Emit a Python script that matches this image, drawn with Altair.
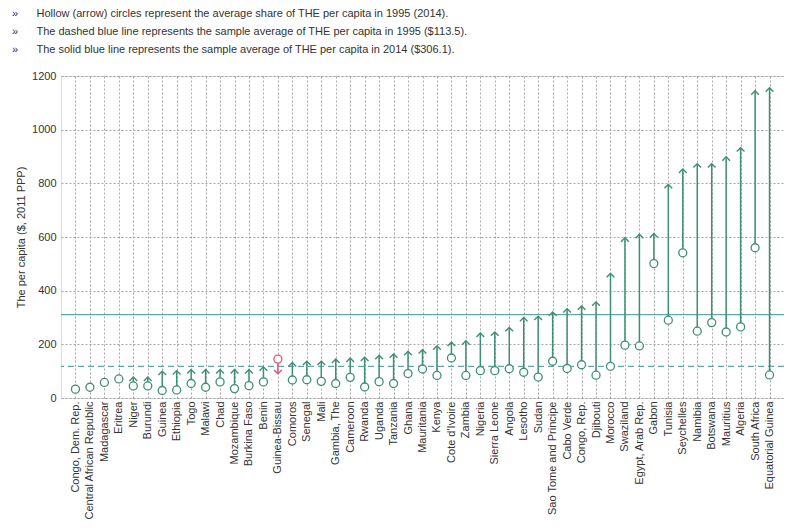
import altair as alt
import pandas as pd

countries = [
    "Congo, Dem. Rep.", "Central African Republic", "Madagascar", "Eritrea", "Niger",
    "Burundi", "Guinea", "Ethiopia", "Togo", "Malawi", "Chad", "Mozambique",
    "Burkina Faso", "Benin", "Guinea-Bissau", "Comoros", "Senegal", "Mali",
    "Gambia, The", "Cameroon", "Rwanda", "Uganda", "Tanzania", "Ghana", "Mauritania",
    "Kenya", "Cote d'Ivoire", "Zambia", "Nigeria", "Sierra Leone", "Angola", "Lesotho",
    "Sudan", "Sao Tome and Principe", "Cabo Verde", "Congo, Rep.", "Djibouti",
    "Morocco", "Swaziland", "Egypt, Arab Rep.", "Gabon", "Tunisia", "Seychelles",
    "Namibia", "Botswana", "Mauritius", "Algeria", "South Africa", "Equatorial Guinea",
]
the_1995 = [33, 40, 58, 71, 45, 45, 28, 30, 54, 40, 60, 35, 46, 60, 145, 67, 68, 62,
            54, 77, 41, 61, 54, 91, 108, 84, 149, 84, 102, 102, 109, 96, 78, 137, 110,
            124, 85, 118, 197, 194, 501, 290, 541, 249, 281, 246, 265, 560, 86]
the_2014 = [33, 40, 58, 71, 78, 78, 100, 102, 106, 106, 106, 106, 106, 116, 90, 132,
            137, 137, 145, 149, 152, 159, 164, 174, 180, 194, 208, 213, 242, 246, 263,
            300, 305, 321, 333, 343, 358, 464, 597, 610, 613, 796, 853, 873, 873, 899,
            933, 1145, 1156]
avg_names = ["1995", "2014"]
avg_values = [118, 311]
notes = [
    "Hollow (arrow) circles represent the average share of THE per capita in 1995 (2014).",
    "The dashed blue line represents the sample average of THE per capita in 1995 ($113.5).",
    "The solid blue line represents the sample average of THE per capita in 2014 ($306.1).",
]

df = pd.DataFrame({"country": countries, "v1995": the_1995, "v2014": the_2014})
df["dir"] = ["down" if b < a else "up" for a, b in zip(the_1995, the_2014)]
df["ang"] = [180 if d == "down" else 0 for d in df["dir"]]
df["diff"] = (df["v2014"] - df["v1995"]).abs()

avg = pd.DataFrame({"year": avg_names, "value": avg_values})

FONT = "Liberation Sans"
GREEN = "#2f7a64"
LINE = "#3f8e77"
RED = "#e05676"
AVG = "#5fa9a3"
GRID = "#8f8f8f"

xenc = alt.X("country:N", sort=countries, scale=alt.Scale(type="point", padding=1),
             axis=alt.Axis(title=None, labelAngle=270, labelAlign="right",
                           labelBaseline="middle", labelPadding=3, ticks=False,
                           domain=False, grid=True, gridDash=[2, 2], gridColor=GRID,
                           gridWidth=0.8, labelFontSize=11, labelColor="#333",
                           labelFont=FONT, labelLimit=200))
yscale = alt.Scale(domain=[0, 1200])
yaxis = alt.Axis(title="The per capita ($, 2011 PPP)", values=[0, 200, 400, 600, 800, 1000, 1200],
                 format="d", ticks=False, domain=False, grid=True, gridDash=[2, 2],
                 gridColor=GRID, gridWidth=0.8, labelFontSize=11, labelColor="#333",
                 labelFont=FONT, labelPadding=5, titleFontSize=11,
                 titleFontWeight="normal", titleColor="#333", titleFont=FONT,
                 titlePadding=5)

colscale = alt.Scale(domain=["up", "down"], range=[GREEN, RED])

base = alt.Chart(df)

avg_dashed = alt.Chart(avg).transform_filter(alt.datum.year == "1995").mark_rule(
    color=AVG, strokeWidth=1.3, strokeDash=[6, 4]).encode(
    y=alt.Y("value:Q", scale=yscale, axis=yaxis))
avg_solid = alt.Chart(avg).transform_filter(alt.datum.year == "2014").mark_rule(
    color=AVG, strokeWidth=1.3).encode(y=alt.Y("value:Q", scale=yscale))

stems = base.transform_filter(alt.datum.diff > 10).mark_rule(strokeWidth=1.5).encode(
    x=xenc,
    y=alt.Y("v1995:Q", scale=yscale, axis=yaxis),
    y2="v2014:Q",
    color=alt.Color("dir:N", scale=alt.Scale(domain=["up", "down"], range=[LINE, RED]), legend=None),
)

heads = base.transform_filter(alt.datum.diff > 10).mark_point(
    shape="M-1,1L0,0L1,1", filled=False, size=60, strokeWidth=1.4, opacity=1).encode(
    x=xenc,
    y=alt.Y("v2014:Q", scale=yscale),
    angle=alt.Angle("ang:Q", scale=None),
    color=alt.Color("dir:N", scale=colscale, legend=None),
)

circles = base.mark_point(shape="circle", size=64, strokeWidth=1.3, fill="white",
                          filled=False, fillOpacity=1, opacity=1).encode(
    x=xenc,
    y=alt.Y("v1995:Q", scale=yscale),
    color=alt.Color("dir:N", scale=colscale, legend=None),
)

bullet = "\u00bb" + "\u00a0" * 6
chart = alt.layer(avg_dashed, avg_solid, stems, heads, circles).properties(
    width=723, height=322,
    autosize=alt.AutoSizeParams(type="none"),
    padding={"left": 53, "top": 68, "right": 0, "bottom": 122},
    title=alt.TitleParams(
        text=[bullet + n for n in notes], anchor="start", frame="group",
        dx=-49, fontSize=11, font=FONT, fontWeight="normal", color="#333",
        lineHeight=18, offset=15,
    ),
).configure_view(stroke=GRID, strokeDash=[2, 2], strokeWidth=0.8).configure(
    background="white")

chart.save("out.html", embed_options={"renderer": "svg", "actions": False})
